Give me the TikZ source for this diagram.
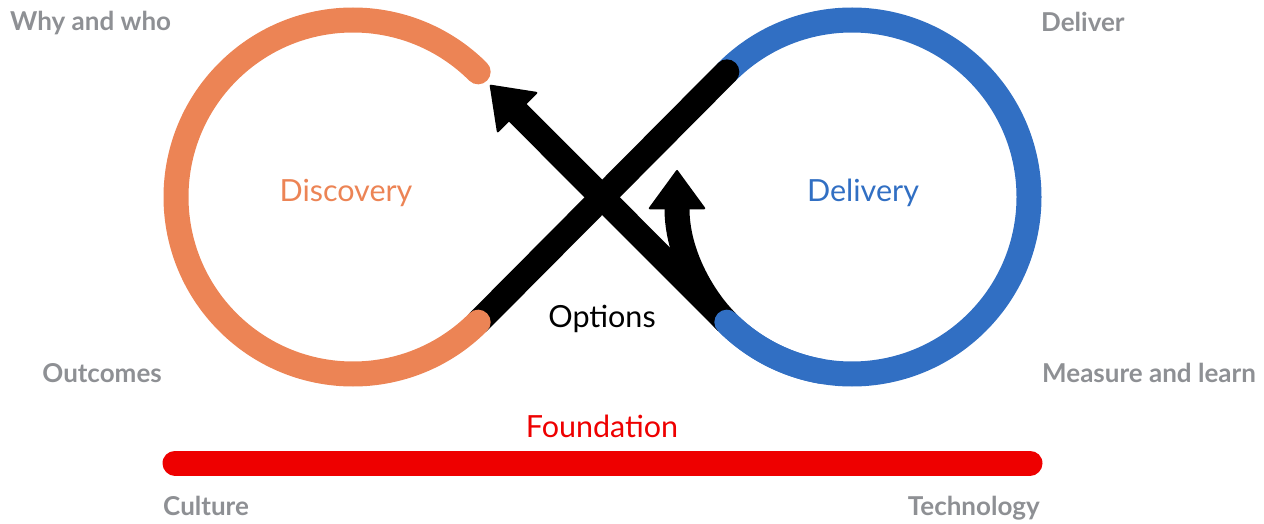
\documentclass[tikz,border=0pt]{standalone}
\usepackage{fontspec}
\setmainfont{Lato}
\usepackage{tikz}
\usetikzlibrary{arrows.meta}
\definecolor{discoveryorange}{HTML}{EC8455}
\definecolor{deliveryblue}{HTML}{316FC3}
\definecolor{foundationred}{HTML}{EE0000}
\definecolor{stagegrey}{HTML}{8E9094}
\tikzstyle{stage} = [inner sep=0, text=stagegrey, font=\fontsize{26}{26}\selectfont\bfseries]
\tikzstyle{phase} = [inner sep=0, font=\fontsize{30.5}{30.5}\selectfont]
\tikzstyle{ring} = [line width=25pt, line cap=round]
\tikzstyle{optarrow} = [line width=25pt, -{Triangle[length=40pt,width=58pt,line width=2pt,round]}]

\begin{document}
\begin{tikzpicture}[x=1pt, y=1pt]
	  \useasboundingbox (0,0) rectangle (1264,523);
	  \coordinate (L) at (353,326);
	  \coordinate (R) at (852,326);
	  \coordinate (Ltop) at ([shift={(45:177)}]L);
	  \coordinate (Lbot) at ([shift={(-45:177)}]L);
	  \coordinate (Rtop) at ([shift={(135:177)}]R);
	  \coordinate (Rbot) at ([shift={(-135:177)}]R);
	  \coordinate (tipA) at (490,438);
	  \coordinate (tipB) at (677,353);
	  \coordinate (barL) at (175,60);
	  \coordinate (barR) at (1030,60);
	
	  \node [phase, text=discoveryorange, anchor=base] (discovery) at (346,321) {Discovery};
	  \node [phase, text=deliveryblue, anchor=base] (delivery) at (863,321) {Delivery};
	  \node [phase, anchor=base] (options) at (602,196) {Options};
	  \node [phase, text=foundationred, anchor=base] (foundation) at (602,86) {Foundation};
	
	  \node [stage, anchor=base west] (why) at (10,492) {Why and who};
	  \node [stage, anchor=base west] (deliver) at (1041,491) {Deliver};
	  \node [stage, anchor=base east] (outcomes) at (162,141) {Outcomes};
	  \node [stage, anchor=base west] (measure) at (1042,141) {Measure and learn};
	  \node [stage, anchor=base west] (culture) at (163,8) {Culture};
	  \node [stage, anchor=base east] (technology) at (1040,8) {Technology};
	
	  \draw [ring, deliveryblue] (Rtop) arc [start angle=135, end angle=-135, radius=177];
	  \draw [ring, black] (Lbot) -- (Rtop);
	  \draw [ring, discoveryorange] (Ltop) arc [start angle=45, end angle=315, radius=177];
	  \draw [optarrow] (Rbot) -- (tipA);
	  \draw [optarrow] (Rbot) .. controls (702,226) and (677,270) .. (tipB);
	  \draw [ring, deliveryblue] (Rbot) arc [start angle=-135, end angle=-100, radius=177];
	  \draw [ring, foundationred] (barL) -- (barR);
	\end{tikzpicture}
\end{document}
